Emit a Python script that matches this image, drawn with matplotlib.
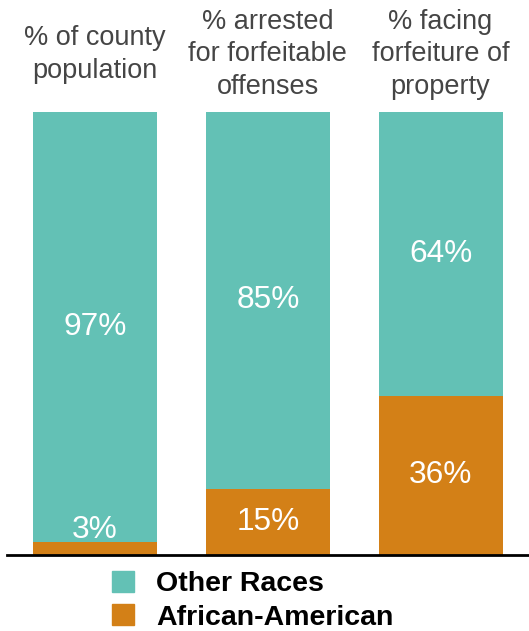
import matplotlib.pyplot as plt
from matplotlib.patches import Patch

# Data
headers = ['% of county\npopulation', '% arrested\nfor forfeitable\noffenses', '% facing\nforfeiture of\nproperty']
african_american = [3, 15, 36]
other_races = [97, 85, 64]

teal = '#63c1b5'
orange = '#d38017'

plt.rcParams['font.family'] = ['Liberation Sans', 'DejaVu Sans']

fig = plt.figure(figsize=(5.29, 6.31), dpi=100)
ax = fig.add_axes([7 / 529, 76 / 631, 522 / 529, 443 / 631])

x = range(len(headers))
ax.bar(x, african_american, width=0.718, color=orange)
ax.bar(x, other_races, width=0.718, bottom=african_american, color=teal)

# Labels in the middle of each segment
for i in x:
    a = african_american[i]
    o = other_races[i]
    ax.text(i, max(a / 2, 5.6), f'{a}%', ha='center', va='center', color='white', fontsize=22.8)
    ax.text(i, a + o / 2, f'{o}%', ha='center', va='center', color='white', fontsize=22.8)
    ax.text(i, 113.0, headers[i], ha='center', va='center', multialignment='center',
            color='#454545', fontsize=19.5, linespacing=1.32, clip_on=False)

ax.set_xlim(-0.51, 2.512)
ax.set_ylim(0, 100)
for s in ['top', 'right', 'left']:
    ax.spines[s].set_visible(False)
ax.spines['bottom'].set_linewidth(2)
ax.spines['bottom'].set_color('black')
ax.set_xticks([])
ax.set_yticks([])

handles = [Patch(color=teal, label='Other Races'), Patch(color=orange, label='African-American')]
fig.legend(handles=handles, loc='upper left', bbox_to_anchor=(112 / 529, 1 - 571 / 631),
           frameon=False, prop={'weight': 'bold', 'size': 20.5},
           handlelength=0.76, handleheight=0.76, handletextpad=0.78, labelspacing=0.24,
           borderpad=0, borderaxespad=0)

fig.savefig('out.png', dpi=100)
